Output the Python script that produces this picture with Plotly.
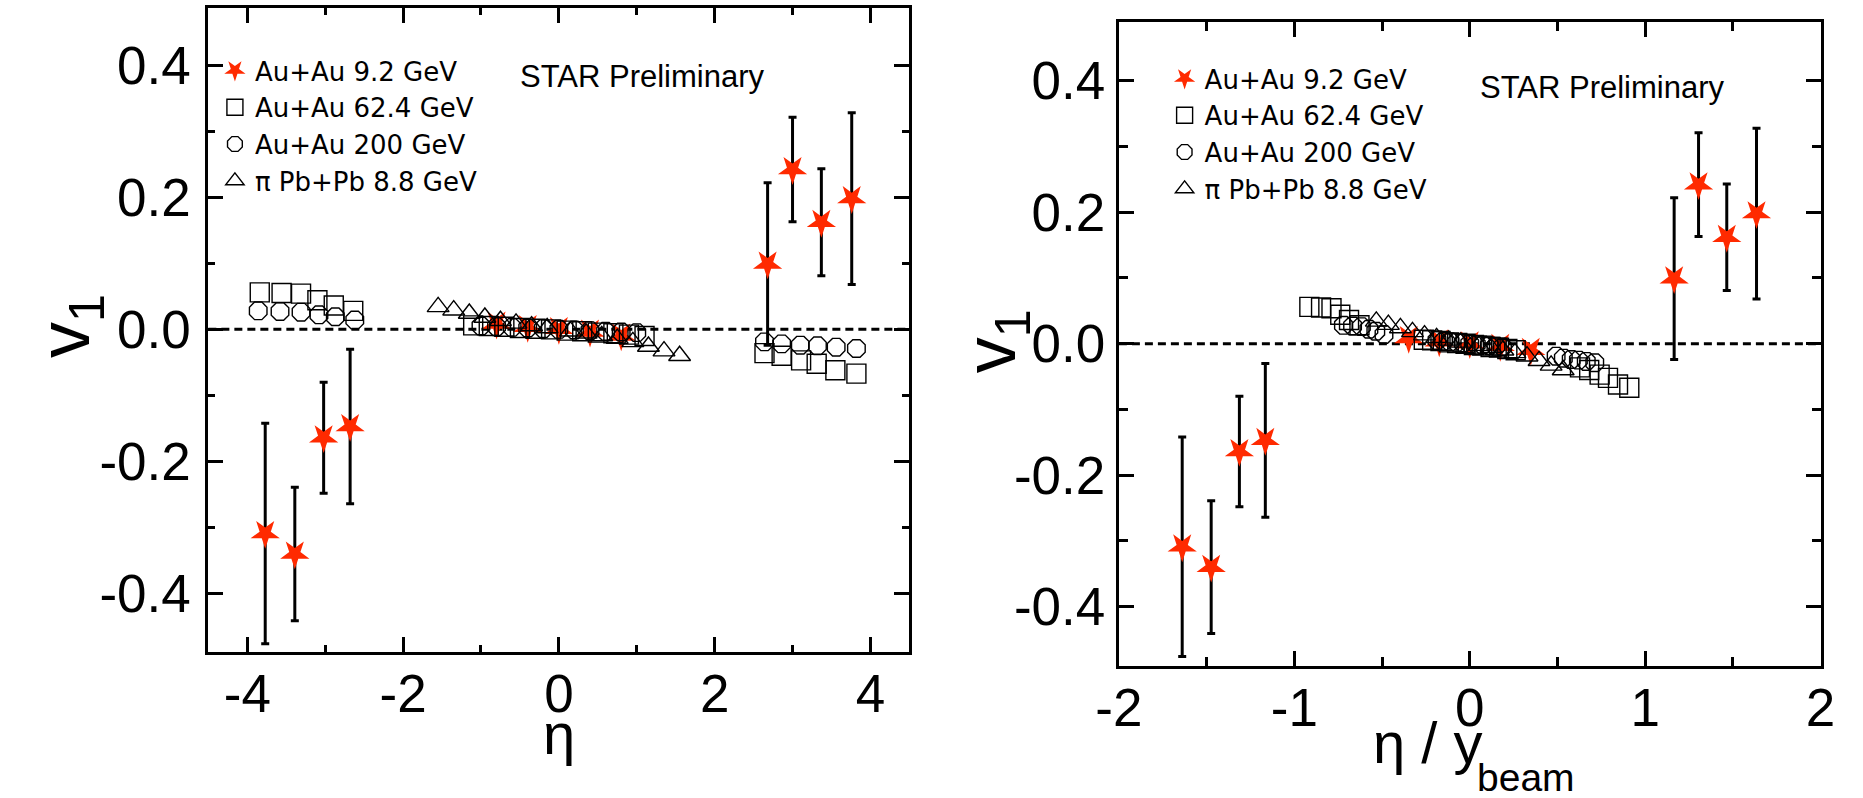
import plotly.graph_objects as go

# ---------------- data ----------------
# Au+Au 9.2 GeV (stars)
eta_92 = [-3.77, -3.39, -3.02, -2.68, -0.80, -0.40, 0.00, 0.40, 0.80, 2.68, 3.00, 3.37, 3.76]
v1_92 = [-0.309, -0.340, -0.164, -0.147, 0.008, 0.003, 0.000, -0.004, -0.010, 0.099, 0.242, 0.162, 0.198]
err_92 = [0.167, 0.101, 0.084, 0.117, 0.0, 0.0, 0.0, 0.0, 0.0, 0.123, 0.079, 0.081, 0.130]

# Au+Au 62.4 GeV (squares)
eta_62 = [-3.84, -3.56, -3.31, -3.10, -2.89, -2.64, -1.10, -0.90, -0.70, -0.50, -0.30, -0.10,
          0.10, 0.30, 0.50, 0.70, 0.90, 1.10, 2.64, 2.86, 3.11, 3.31, 3.55, 3.82]
v1_62 = [0.056, 0.055, 0.054, 0.044, 0.036, 0.028, 0.006, 0.005, 0.004, 0.002, 0.001, 0.000,
         -0.002, -0.003, -0.005, -0.006, -0.008, -0.010, -0.036, -0.040, -0.047, -0.052, -0.062, -0.067]

# Au+Au 200 GeV (octagons)
eta_200 = [-3.86, -3.58, -3.31, -3.08, -2.87, -2.62, -1.00, -0.80, -0.60, -0.40, -0.20, 0.00,
           0.20, 0.40, 0.60, 0.80, 1.00, 2.64, 2.86, 3.10, 3.32, 3.56, 3.82]
v1_200 = [0.028, 0.027, 0.026, 0.022, 0.019, 0.014, 0.005, 0.004, 0.003, 0.002, 0.001, 0.000,
          -0.001, -0.002, -0.003, -0.004, -0.005, -0.019, -0.022, -0.024, -0.025, -0.027, -0.029]

# pi Pb+Pb 8.8 GeV (triangles)
eta_pi = [-1.55, -1.35, -1.15, -0.95, -0.75, -0.55, -0.35, -0.15, 0.15, 0.35, 0.55, 0.75,
          0.95, 1.15, 1.35, 1.55]
v1_pi = [0.034, 0.029, 0.024, 0.018, 0.013, 0.009, 0.005, 0.002, -0.003, -0.006, -0.010, -0.014,
         -0.019, -0.026, -0.033, -0.040]

# beam rapidities used for the scaled panel
ybeam_92 = 2.3
ybeam_62 = 4.2
ybeam_200 = 5.36
ybeam_pi = 2.91

names = ["Au+Au 9.2 GeV", "Au+Au 62.4 GeV", "Au+Au 200 GeV", "\u03c0 Pb+Pb 8.8 GeV"]

# tick labels
xt_left = [-4, -2, 0, 2, 4]
xt_left_txt = ["-4", "-2", "0", "2", "4"]
xt_right = [-2, -1, 0, 1, 2]
xt_right_txt = ["-2", "-1", "0", "1", "2"]
yt = [-0.4, -0.2, 0.0, 0.2, 0.4]
yt_txt = ["-0.4", "-0.2", "0.0", "0.2", "0.4"]

# ---------------- figure ----------------
W, H = 1863, 798
RED = "#ff2a00"
FONT = "Liberation Sans, Arial, sans-serif"
LFONT = "DejaVu Sans, Liberation Sans, sans-serif"

fig = go.Figure()

def add_panel(xa, ya, leg, divisors):
    d92, d62, d200, dpi = divisors
    fig.add_trace(go.Scatter(
        x=[e / d92 for e in eta_92], y=v1_92, mode="markers", name=names[0],
        xaxis=xa, yaxis=ya, legend=leg, legendrank=1,
        marker=dict(symbol="star", angle=180, size=22, color=RED, line=dict(width=0)),
        error_y=dict(type="data", array=err_92, color="black", thickness=3, width=4)))
    fig.add_trace(go.Scatter(
        x=[e / d62 for e in eta_62], y=v1_62, mode="markers", name=names[1],
        xaxis=xa, yaxis=ya, legend=leg, legendrank=2,
        marker=dict(symbol="square-open", size=19, color="black", line=dict(width=1.4))))
    fig.add_trace(go.Scatter(
        x=[e / d200 for e in eta_200], y=v1_200, mode="markers", name=names[2],
        xaxis=xa, yaxis=ya, legend=leg, legendrank=3,
        marker=dict(symbol="octagon-open", size=19, color="black", line=dict(width=1.4))))
    fig.add_trace(go.Scatter(
        x=[e / dpi for e in eta_pi], y=v1_pi, mode="markers", name=names[3],
        xaxis=xa, yaxis=ya, legend=leg, legendrank=4,
        marker=dict(symbol="triangle-up-open", size=19, color="black", line=dict(width=1.4))))

add_panel("x", "y", "legend", (1, 1, 1, 1))
add_panel("x2", "y2", "legend2", (ybeam_92, ybeam_62, ybeam_200, ybeam_pi))

tickfont = dict(family=FONT, size=53, color="black")
axcommon = dict(showline=True, linewidth=3, linecolor="black", mirror="ticks",
                ticks="inside", ticklen=15, tickwidth=3, tickcolor="black",
                showgrid=False, zeroline=False, tickfont=tickfont)

fig.update_layout(
    width=W, height=H, margin=dict(l=0, r=0, t=0, b=0),
    paper_bgcolor="white", plot_bgcolor="white",
    xaxis=dict(domain=[188.3 / W, 904.3 / W], range=[-4.5, 4.5], anchor="y",
               tickvals=xt_left, ticktext=xt_left_txt, ticklabelstandoff=-6,
               minor=dict(dtick=1, tick0=0, ticks="inside", ticklen=7, tickwidth=3, tickcolor="black"),
               **axcommon),
    yaxis=dict(domain=[1 - 651.7 / H, 1 - 8.3 / H], range=[-0.488, 0.486], anchor="x",
               tickvals=yt, ticktext=yt_txt, ticklabelstandoff=4,
               minor=dict(dtick=0.1, tick0=0, ticks="inside", ticklen=7, tickwidth=3, tickcolor="black"),
               **axcommon),
    xaxis2=dict(domain=[1118.3 / W, 1835 / W], range=[-2, 2], anchor="y2",
                tickvals=xt_right, ticktext=xt_right_txt, ticklabelstandoff=-6,
                minor=dict(dtick=0.5, tick0=0, ticks="inside", ticklen=9, tickwidth=3, tickcolor="black"),
                **axcommon),
    yaxis2=dict(domain=[1 - 665.7 / H, 1 - 21.7 / H], range=[-0.49, 0.49], anchor="x2",
                tickvals=yt, ticktext=yt_txt, ticklabelstandoff=0,
                minor=dict(dtick=0.1, tick0=0, ticks="inside", ticklen=9, tickwidth=3, tickcolor="black"),
                **axcommon),
    legend=dict(x=195 / W, y=1 - 47 / H, xanchor="left", yanchor="top",
                bgcolor="rgba(0,0,0,0)", font=dict(family=LFONT, size=26, color="black"),
                itemwidth=30, tracegroupgap=0),
    legend2=dict(x=1165 / W, y=1 - 55 / H, xanchor="left", yanchor="top",
                 bgcolor="rgba(0,0,0,0)", font=dict(family=LFONT, size=26, color="black"),
                 itemwidth=30, tracegroupgap=0),
    showlegend=True,
)

# dotted zero lines
for xr, yr in (("x domain", "y"), ("x2 domain", "y2")):
    fig.add_shape(type="line", xref=xr, yref=yr, x0=0, x1=1, y0=0, y1=0,
                  line=dict(color="black", width=3, dash="8px,5px"), layer="below")

ann_font = dict(family=FONT, color="black")
fig.add_annotation(text="STAR Preliminary", xref="paper", yref="paper", x=505 / W, y=1 - 77 / H,
                   xanchor="left", yanchor="middle", showarrow=False, font=dict(size=31, **ann_font))
fig.add_annotation(text="STAR Preliminary", xref="paper", yref="paper", x=1485 / W, y=1 - 87 / H,
                   xanchor="left", yanchor="middle", showarrow=False, font=dict(size=31, **ann_font))
fig.add_annotation(text="v<sub>1</sub>", xref="paper", yref="paper", x=46 / W, y=1 - 326 / H,
                   xanchor="center", yanchor="middle", textangle=-90, showarrow=False,
                   font=dict(size=72, **ann_font))
fig.add_annotation(text="v<sub>1</sub>", xref="paper", yref="paper", x=992 / W, y=1 - 341 / H,
                   xanchor="center", yanchor="middle", textangle=-90, showarrow=False,
                   font=dict(size=72, **ann_font))
fig.add_annotation(text="\u03b7", xref="paper", yref="paper", x=546.5 / W, y=1 - 733 / H,
                   xanchor="center", yanchor="middle", showarrow=False, font=dict(size=58, **ann_font))
fig.add_annotation(text="\u03b7 / y", xref="paper", yref="paper", x=1376 / W, y=1 - 742 / H,
                   xanchor="left", yanchor="middle", showarrow=False, font=dict(size=58, **ann_font))
fig.add_annotation(text="beam", xref="paper", yref="paper", x=1482 / W, y=1 - 777 / H,
                   xanchor="left", yanchor="middle", showarrow=False, font=dict(size=39, **ann_font))

fig.write_html("out.html")
